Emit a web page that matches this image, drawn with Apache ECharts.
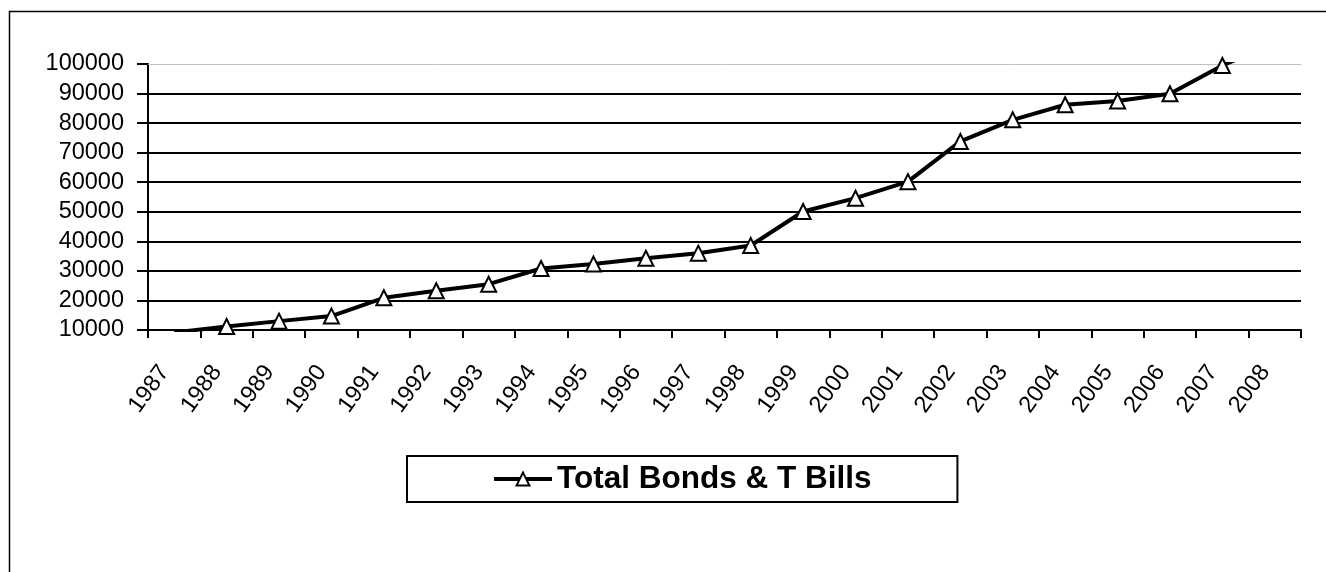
<!DOCTYPE html>
<html>
<head>
<meta charset="utf-8">
<script src="https://cdn.jsdelivr.net/npm/echarts@6/dist/echarts.min.js"></script>
<style>
html,body{margin:0;padding:0;background:#fff;}
#chart{width:1326px;height:572px;}
</style>
</head>
<body>
<div id="chart"></div>
<script>
var years = ['1987','1988','1989','1990','1991','1992','1993','1994','1995','1996','1997','1998','1999','2000','2001','2002','2003','2004','2005','2006','2007','2008'];
var totalBondsTBills = [9200, 11200, 13000, 14700, 20900, 23300, 25500, 30800, 32300, 34300, 36000, 38600, 50100, 54600, 60200, 73800, 81100, 86200, 87500, 89900, 99500, 107000];
var seriesName = 'Total Bonds & T Bills';
var yMin = 10000, yMax = 100000, yStep = 10000;

var FONT = "'Liberation Sans', Arial, sans-serif";
var chart = echarts.init(document.getElementById('chart'), null, {renderer: 'canvas'});
chart.setOption({
  animation: false,
  backgroundColor: '#ffffff',
  graphic: [{
    type: 'rect',
    shape: {x: 9.5, y: 11.5, width: 2000, height: 2000},
    style: {fill: 'none', stroke: '#000', lineWidth: 1.5},
    silent: true,
    z: -1
  }],
  grid: {left: 148, right: 25, top: 64, bottom: 242, containLabel: false},
  legend: {
    data: [seriesName],
    left: 407,
    top: 456,
    orient: 'horizontal',
    borderColor: '#000',
    borderWidth: 2,
    padding: [7, 86, 7, 85],
    itemWidth: 58,
    itemHeight: 16,
    lineStyle: {width: 4, color: '#000'},
    textStyle: {fontFamily: FONT, fontSize: 31.5, fontWeight: 'bold', color: '#000'}
  },
  xAxis: [{
    type: 'category',
    data: years,
    boundaryGap: true,
    axisLine: {show: true, lineStyle: {color: '#000', width: 2}},
    axisTick: {show: true, length: 8, inside: false, lineStyle: {color: '#000', width: 2}},
    axisLabel: {interval: 0, rotate: 54, margin: 45, verticalAlign: 'bottom', fontFamily: FONT, fontSize: 23.5, color: '#000'},
    splitLine: {show: false}
  }, {
    type: 'category',
    data: years,
    position: 'top',
    axisLine: {show: true, lineStyle: {color: '#c0c0c0', width: 1}},
    axisTick: {show: false},
    axisLabel: {show: false},
    splitLine: {show: false}
  }],
  yAxis: {
    type: 'value',
    min: yMin,
    max: yMax,
    interval: yStep,
    axisLine: {show: true, lineStyle: {color: '#000', width: 2}},
    axisTick: {show: true, length: 11, inside: false, lineStyle: {color: '#000', width: 2}},
    axisLabel: {margin: 24, fontFamily: FONT, fontSize: 23.5, color: '#000', formatter: function (v) { return String(v); }},
    splitLine: {show: true, showMaxLine: false, lineStyle: {color: '#000', width: 2}}
  },
  series: [{
    name: seriesName,
    type: 'line',
    data: totalBondsTBills,
    clip: true,
    symbol: 'triangle',
    symbolSize: 15,
    showAllSymbol: true,
    lineStyle: {color: '#000', width: 4},
    itemStyle: {color: '#fff', borderColor: '#000', borderWidth: 2}
  }]
});
</script>
</body>
</html>
